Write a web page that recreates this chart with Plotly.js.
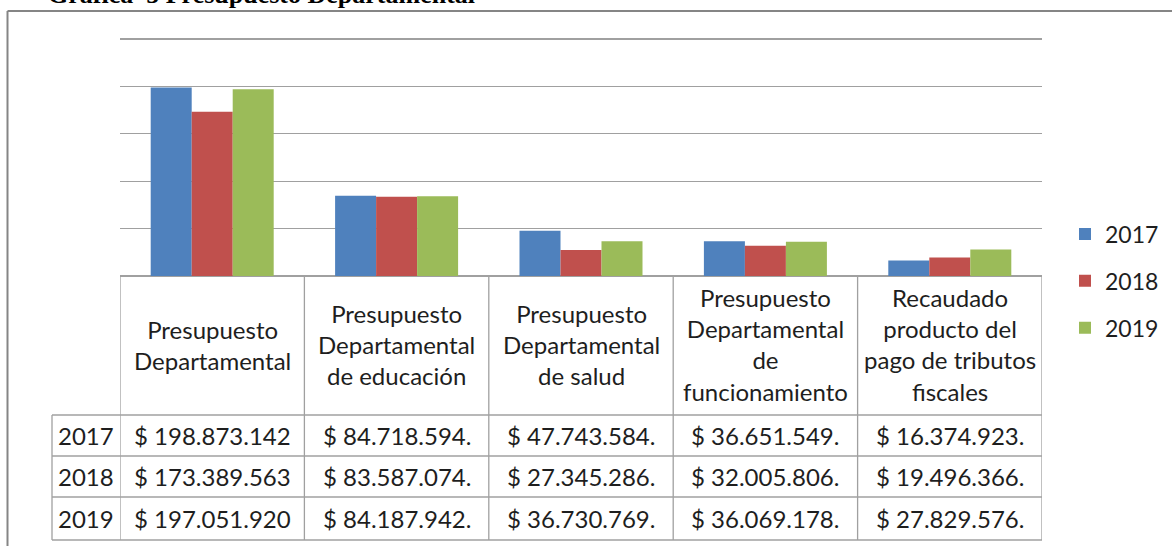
<!DOCTYPE html>
<html>
<head>
<meta charset="utf-8">
<script src="https://cdn.plot.ly/plotly-3.0.1.min.js"></script>
<style>
  html, body { margin: 0; padding: 0; background: #ffffff; }
  #chart { width: 1172px; height: 546px; }
</style>
</head>
<body>
<div id="chart"></div>
<script>
// ---------------- DATA ----------------
const categoryKeys = [
  'Presupuesto Departamental',
  'Presupuesto Departamental de educación',
  'Presupuesto Departamental de salud',
  'Presupuesto Departamental de funcionamiento',
  'Recaudado producto del pago de tributos fiscales'
];
const headerLabels = [
  'Presupuesto\nDepartamental',
  'Presupuesto\nDepartamental\nde educación',
  'Presupuesto\nDepartamental\nde salud',
  'Presupuesto\nDepartamental\nde\nfuncionamiento',
  'Recaudado\nproducto del\npago de tributos\nfiscales'
];
const years = ['2017', '2018', '2019'];
const values2017 = [198873142, 84718594, 47743584, 36651549, 16374923];
const values2018 = [173389563, 83587074, 27345286, 32005806, 19496366];
const values2019 = [197051920, 84187942, 36730769, 36069178, 27829576];
const labels2017 = ['$ 198.873.142', '$ 84.718.594.', '$ 47.743.584.', '$ 36.651.549.', '$ 16.374.923.'];
const labels2018 = ['$ 173.389.563', '$ 83.587.074.', '$ 27.345.286.', '$ 32.005.806.', '$ 19.496.366.'];
const labels2019 = ['$ 197.051.920', '$ 84.187.942.', '$ 36.730.769.', '$ 36.069.178.', '$ 27.829.576.'];
const yTicks = [0, 50000000, 100000000, 150000000, 200000000, 250000000];
const chartTitle = 'Grafica  5 Presupuesto Departamental';

// ---------------- STYLE / LAYOUT ----------------
const colors = ['#4F81BD', '#C0504D', '#9BBB59'];
const seriesValues = [values2017, values2018, values2019];
const seriesLabels = [labels2017, labels2018, labels2019];

const W = 1172, H = 546;
const M = { l: 120, r: 130, t: 29, b: 270, autoexpand: false };
const plotTop = M.t, plotBottom = H - M.b, plotH = plotBottom - plotTop;
const plotW = W - M.l - M.r;
const py = p => (plotBottom - p) / plotH;      // pixel y -> paper y
const px = p => (p - M.l) / plotW;             // pixel x -> paper x
const topGridPx = 39;                           // where the 250M gridline sits
const yMax = yTicks[yTicks.length - 1] * plotH / (plotBottom - topGridPx);

const headerBottom = 415;
const rowBounds = [415, 456, 497, 540];
const yearColLeft = 52;
const lineColor = '#a0a0a0';
const textColor = '#1e1e1e';
const tableFont = { family: 'Lato, "Liberation Sans", sans-serif', size: 24, color: textColor };

const traces = years.map((y, i) => ({
  type: 'bar',
  name: y,
  x: categoryKeys,
  y: seriesValues[i],
  marker: { color: colors[i], line: { width: 0 } },
  legendgroup: 'g' + i,
  hoverinfo: 'skip'
}));

const shapes = [];
const annotations = [];

// outer chart frame (left and top edges visible)
shapes.push({ type: 'line', xref: 'paper', yref: 'paper', x0: px(7.5), x1: px(W + 5), y0: py(11), y1: py(11), line: { color: '#858585', width: 2 } });
shapes.push({ type: 'line', xref: 'paper', yref: 'paper', x0: px(7.5), x1: px(7.5), y0: py(11), y1: py(H + 5), line: { color: '#858585', width: 2 } });

// table vertical lines at category boundaries
for (let k = 0; k <= categoryKeys.length; k++) {
  shapes.push({ type: 'line', xref: 'x', yref: 'paper', x0: k - 0.5, x1: k - 0.5, y0: 0, y1: py(rowBounds[rowBounds.length - 1]), line: { color: lineColor, width: 1.3 } });
}
// year column left edge
shapes.push({ type: 'line', xref: 'paper', yref: 'paper', x0: px(yearColLeft), x1: px(yearColLeft), y0: py(headerBottom), y1: py(rowBounds[rowBounds.length - 1]), line: { color: lineColor, width: 1.3 } });
// horizontal row lines
rowBounds.forEach(r => {
  shapes.push({ type: 'line', xref: 'paper', yref: 'paper', x0: px(yearColLeft), x1: 1, y0: py(r), y1: py(r), line: { color: lineColor, width: 1.3 } });
});

// header labels
headerLabels.forEach((lab, k) => {
  annotations.push({
    xref: 'x', yref: 'paper', x: k, y: py((plotBottom + headerBottom) / 2 - 1),
    text: lab.split('\n').join('<br>'), showarrow: false,
    xanchor: 'center', yanchor: 'middle', align: 'center', font: tableFont
  });
});
// rows
years.forEach((yr, r) => {
  const yc = py((rowBounds[r] + rowBounds[r + 1]) / 2);
  annotations.push({
    xref: 'paper', yref: 'paper', x: px((yearColLeft + M.l) / 2), y: yc,
    text: yr, showarrow: false, xanchor: 'center', yanchor: 'middle', font: tableFont
  });
  seriesLabels[r].forEach((lab, k) => {
    annotations.push({
      xref: 'x', yref: 'paper', x: k, y: yc,
      text: lab, showarrow: false, xanchor: 'center', yanchor: 'middle', font: tableFont
    });
  });
});

// title (partly cut off by the top edge, as in the reference)
annotations.push({
  xref: 'paper', yref: 'paper', x: px(46), y: py(-6),
  text: chartTitle, showarrow: false, xanchor: 'left', yanchor: 'middle',
  font: { family: '"Liberation Serif", "Times New Roman", serif', size: 26, color: '#000000', weight: 'bold' }
});

const layout = {
  width: W, height: H,
  margin: M,
  paper_bgcolor: '#ffffff',
  plot_bgcolor: '#ffffff',
  showlegend: true,
  barmode: 'group',
  bargap: 0.333,
  bargroupgap: 0,
  xaxis: {
    type: 'category', range: [-0.5, categoryKeys.length - 0.5],
    showticklabels: false, showgrid: false, zeroline: false, showline: false, ticks: '', fixedrange: true
  },
  yaxis: {
    range: [0, yMax], tickvals: yTicks, showticklabels: false,
    showgrid: true, gridcolor: lineColor, gridwidth: 1.3,
    zeroline: true, zerolinecolor: lineColor, zerolinewidth: 1.3,
    showline: false, ticks: '', fixedrange: true
  },
  legend: {
    x: px(1065), y: py(281), xanchor: 'left', yanchor: 'middle',
    traceorder: 'grouped', tracegroupgap: 14,
    font: { family: 'Lato, "Liberation Sans", sans-serif', size: 23, color: textColor },
    bgcolor: 'rgba(0,0,0,0)', borderwidth: 0, itemwidth: 30
  },
  shapes: shapes,
  annotations: annotations
};

Plotly.newPlot('chart', traces, layout, { staticPlot: true, displayModeBar: false });
</script>
</body>
</html>
